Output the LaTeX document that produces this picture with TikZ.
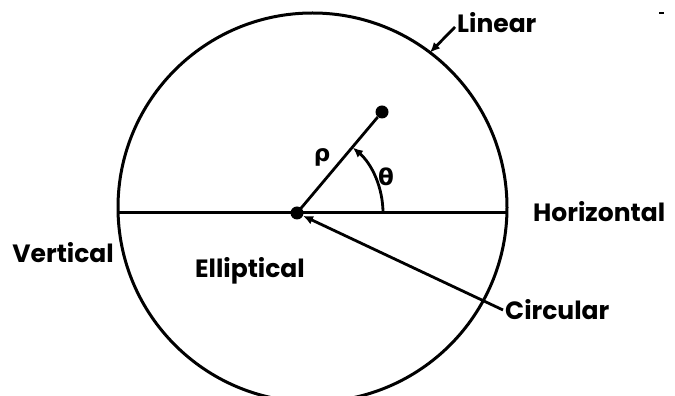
\documentclass[tikz,border=0pt]{standalone}
\usepackage{fontspec}
\setmainfont{Poppins}
\newfontfamily\greekfont{DejaVu Sans}
\usetikzlibrary{arrows.meta, positioning}

\begin{document}
\begin{tikzpicture}[
    x=1pt, y=1pt,
    rim/.style={line width=3pt},
    ray/.style={line width=2.8pt},
    dot/.style={circle, fill=black, inner sep=0pt, minimum size=13pt},
    lbl/.style={font=\fontsize{25}{27}\selectfont\bfseries, inner sep=2pt},
    glbl/.style={font=\fontsize{23}{25}\selectfont\greekfont\bfseries, inner sep=1pt},
    arr/.style={-{Latex[length=10pt, width=9pt]}, line width=2.8pt},
]
\useasboundingbox (0,0) rectangle (675,396);
\clip (0,0) rectangle (675,396);

% ── Circle and horizontal axis ──
\coordinate (c) at (312.5,188.5);
\draw[rim] (c) circle (194.5);
\coordinate (hl) at (118.1,183);
\coordinate (hr) at (506.9,183);
\draw[rim] (hl) -- (hr);

% ── Origin, point and angle ──
\node[dot] (o) at (297,183) {};
\node[dot] (p) at (382,284) {};
\draw[ray] (o.center) -- (p);
\draw[arr] ([shift={(0:86)}]o.center) arc (0:49.5:86);
\node[glbl] (rho) at (322,239) {ρ};
\node[glbl] (theta) at (386,219) {θ};

% ── Labels ──
\node[lbl, anchor=west] (horiz) at (531,184) {Horizontal};
\node[lbl, anchor=east] (vert) at (116,143) {Vertical};
\node[lbl] (ellip) at (250,125) {Elliptical};
\node[lbl, anchor=west] (lin) at (455,373) {Linear};
\node[lbl, anchor=west] (circ) at (503,86) {Circular};

% ── Pointers ──
\coordinate (lintip) at (430,343.5);
\draw[arr] ([yshift=-4pt]lin.west) -- (lintip);
\draw[arr] (circ.west) -- (o);

% stray mark
\coordinate (m1) at (659,383);
\coordinate (m2) at (664,383);
\draw[line width=1.5pt] (m1) -- (m2);
\end{tikzpicture}
\end{document}
